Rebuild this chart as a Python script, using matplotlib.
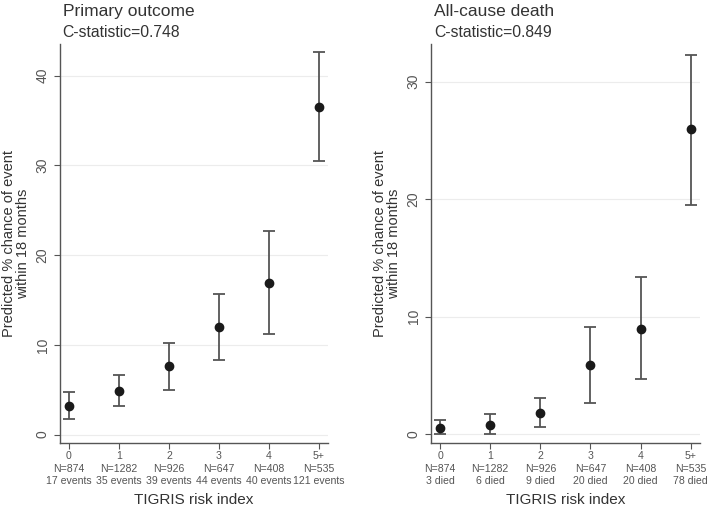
import matplotlib.pyplot as plt
import numpy as np

plt.rcParams["font.family"] = ["Liberation Sans", "DejaVu Sans"]

# risk index categories and group sizes
categories = ["0", "1", "2", "3", "4", "5+"]
n_patients = [874, 1282, 926, 647, 408, 535]

# primary outcome
primary_events = [17, 35, 39, 44, 40, 121]
primary_est = [3.2, 4.9, 7.6, 12.0, 16.9, 36.5]
primary_lo = [1.7, 3.2, 5.0, 8.3, 11.2, 30.5]
primary_hi = [4.8, 6.6, 10.2, 15.7, 22.7, 42.6]

# all-cause death
death_events = [3, 6, 9, 20, 20, 78]
death_est = [0.5, 0.8, 1.8, 5.9, 9.0, 26.0]
death_lo = [0.0, 0.0, 0.6, 2.7, 4.7, 19.5]
death_hi = [1.2, 1.7, 3.1, 9.1, 13.4, 32.3]

fig = plt.figure(figsize=(7.09, 5.07), dpi=100)


def draw_panel(ax, est, lo, hi, events, word, title, cstat, yticks, ylim):
    x = np.arange(len(categories))
    est = np.array(est)
    yerr = [est - np.array(lo), np.array(hi) - est]
    for t in yticks:
        ax.axhline(t, color="#ececec", lw=0.8, zorder=0)
    ax.errorbar(x, est, yerr=yerr, fmt="o", color="#1a1a1a", ms=6,
                ecolor="#555555", elinewidth=1.3, capsize=4.5, capthick=1.3)
    labels = ["%s\nN=%d\n%d %s" % (c, n, e, word)
              for c, n, e in zip(categories, n_patients, events)]
    ax.set_xticks(x)
    ax.set_xticklabels(labels, fontsize=7.6, color="#333333", linespacing=1.3)
    ax.set_yticks(yticks)
    ax.set_yticklabels([str(t) for t in yticks], rotation=90, va="center",
                       fontsize=10, color="#333333")
    ax.set_xlim(-0.18, 5.18)
    ax.set_ylim(*ylim)
    for s in ["top", "right"]:
        ax.spines[s].set_visible(False)
    for s in ["left", "bottom"]:
        ax.spines[s].set_color("#555555")
        ax.spines[s].set_linewidth(1.0)
    ax.tick_params(colors="#555555", length=4, width=0.8)
    ax.tick_params(axis="x", pad=2)
    ax.set_xlabel("TIGRIS risk index", fontsize=11, color="#333333", labelpad=5)
    ax.set_ylabel("Predicted % chance of event\nwithin 18 months", fontsize=10.5,
                  color="#333333", labelpad=4, linespacing=1.0)
    ax.text(0.01, 1.07, title, transform=ax.transAxes, fontsize=12.5,
            color="#333333", ha="left", va="baseline")
    ax.text(0.01, 1.0175, "C-statistic=" + cstat, transform=ax.transAxes,
            fontsize=11.3, color="#333333", ha="left", va="baseline")


ax1 = fig.add_axes([0.0846, 0.126, 0.378, 0.787])
draw_panel(ax1, primary_est, primary_lo, primary_hi, primary_events, "events",
           "Primary outcome", "0.748", [0, 10, 20, 30, 40], (-0.95, 43.5))

ax2 = fig.add_axes([0.608, 0.126, 0.379, 0.787])
draw_panel(ax2, death_est, death_lo, death_hi, death_events, "died",
           "All-cause death", "0.849", [0, 10, 20, 30], (-0.75, 33.2))

fig.savefig("out.png", dpi=100)
